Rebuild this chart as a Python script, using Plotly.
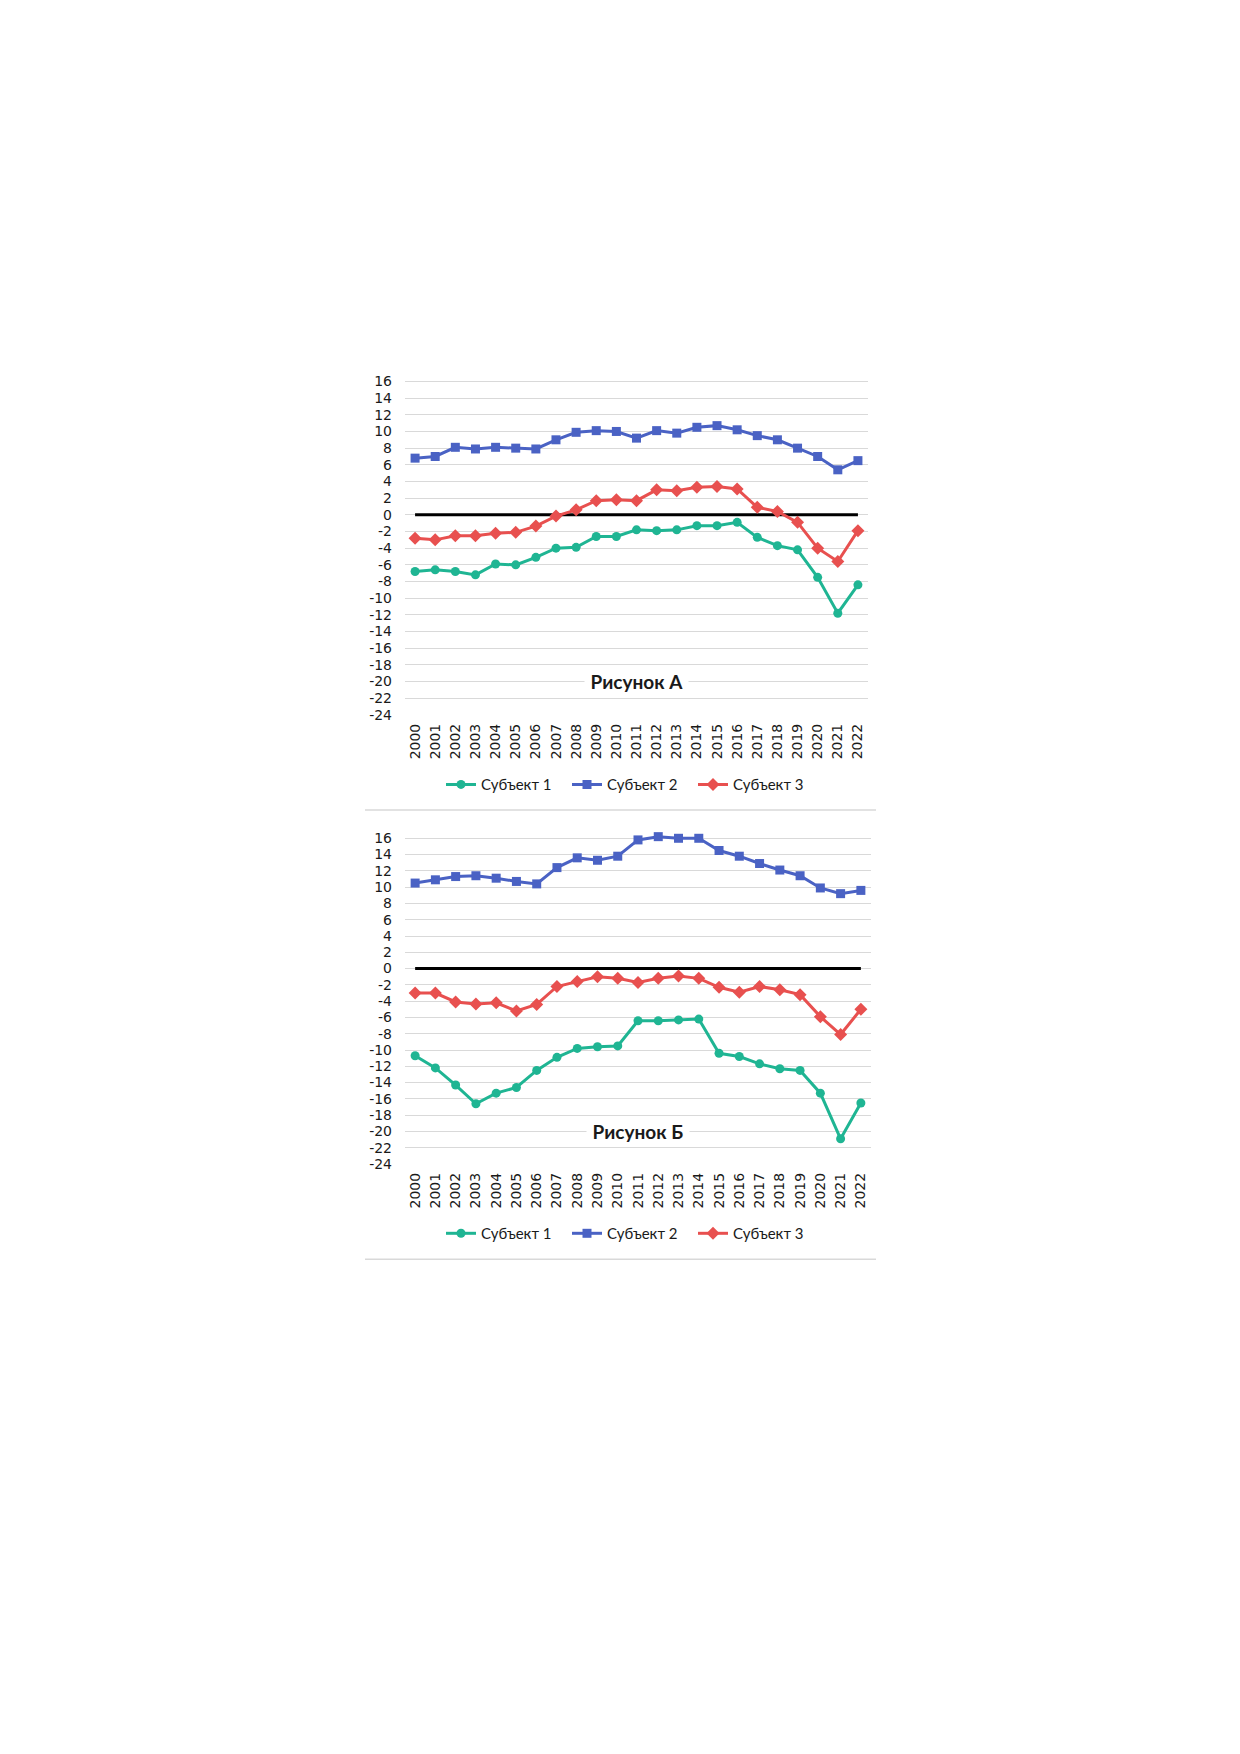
import plotly.graph_objects as go

years = [str(y) for y in range(2000, 2023)]
series_names = ["Субъект 1", "Субъект 2", "Субъект 3"]

# Рисунок А
a_s1 = [-6.8, -6.6, -6.8, -7.2, -5.9, -6.0, -5.1, -4.0, -3.9, -2.6, -2.6, -1.8, -1.9,
        -1.8, -1.3, -1.3, -0.9, -2.7, -3.7, -4.2, -7.5, -11.8, -8.4]
a_s2 = [6.8, 7.0, 8.1, 7.9, 8.1, 8.0, 7.9, 9.0, 9.9, 10.1, 10.0, 9.2, 10.1,
        9.8, 10.5, 10.7, 10.2, 9.5, 9.0, 8.0, 7.0, 5.4, 6.5]
a_s3 = [-2.8, -3.0, -2.5, -2.5, -2.2, -2.1, -1.35, -0.15, 0.6, 1.7, 1.8, 1.7, 3.0,
        2.9, 3.3, 3.4, 3.1, 0.9, 0.4, -0.9, -4.0, -5.6, -1.9]

# Рисунок Б
b_s1 = [-10.7, -12.2, -14.3, -16.6, -15.3, -14.6, -12.5, -10.9, -9.8, -9.6, -9.5, -6.4, -6.4,
        -6.3, -6.2, -10.4, -10.8, -11.7, -12.3, -12.5, -15.3, -20.9, -16.5]
b_s2 = [10.5, 10.9, 11.3, 11.4, 11.1, 10.7, 10.4, 12.4, 13.6, 13.3, 13.8, 15.8, 16.2,
        16.0, 16.0, 14.5, 13.8, 12.9, 12.1, 11.4, 9.9, 9.2, 9.6]
b_s3 = [-3.0, -3.0, -4.1, -4.35, -4.2, -5.2, -4.4, -2.2, -1.6, -1.0, -1.2, -1.7, -1.2,
        -0.9, -1.2, -2.3, -2.9, -2.2, -2.6, -3.2, -5.9, -8.1, -5.0]
zero_line = [0] * len(years)

titles = ["Рисунок А", "Рисунок Б"]
y_ticks = list(range(-24, 17, 2))
y_ticktext = [str(v) for v in y_ticks]  # hyphen-minus as in the original

colors = ["#1fb593", "#4a62c4", "#e8504f"]
symbols = ["circle", "square", "diamond"]
msizes = [9, 9, 10]

OFF = 8  # browser body margin
W, H = 1240 - OFF, 1754 - OFF
YTOP = 16.5  # headroom above the last gridline

def px_x(v):
    return (v - OFF) / W

def px_y(v):
    return 1 - (v - OFF) / H

fig = go.Figure()

charts = [
    dict(data=[a_s1, a_s2, a_s3], xd=(405, 868), y16=380, y24=715.8, legend_y=786, border=811.5, sfx="", leg="legend"),
    dict(data=[b_s1, b_s2, b_s3], xd=(405, 871), y16=840, y24=1168, legend_y=1238, border=1264, sfx="2", leg="legend2"),
]

tick_font = dict(family="DejaVu Sans, Verdana, sans-serif", size=14, color="#1a1a1a")

layout_extra = {}
for i, ch in enumerate(charts):
    xa = "x" + ch["sfx"]
    ya = "y" + ch["sfx"]
    ppu = (ch["y24"] - ch["y16"]) / 40.0
    ytop_px = ch["y16"] - (YTOP - 16) * ppu
    fig.add_trace(go.Scatter(
        x=years, y=zero_line, mode="lines", line=dict(color="#000000", width=3),
        showlegend=False, hoverinfo="skip", xaxis=xa, yaxis=ya))
    for k in range(3):
        fig.add_trace(go.Scatter(
            x=years, y=ch["data"][k], mode="lines+markers", name=series_names[k],
            line=dict(color=colors[k], width=3),
            marker=dict(symbol=symbols[k], size=msizes[k], color=colors[k]),
            cliponaxis=False, xaxis=xa, yaxis=ya, legend=ch["leg"]))
    xkey = "xaxis" + ch["sfx"]
    ykey = "yaxis" + ch["sfx"]
    layout_extra[xkey] = dict(
        domain=[px_x(ch["xd"][0]), px_x(ch["xd"][1])], anchor=ya, type="category",
        range=[-0.5, 22.5], showgrid=False, showline=False, zeroline=False, ticks="",
        tickangle=-90, tickfont=tick_font, ticklabelstandoff=5)
    layout_extra[ykey] = dict(
        domain=[px_y(ch["y24"]), px_y(ytop_px)], anchor=xa, range=[-24, YTOP],
        tickvals=y_ticks, ticktext=y_ticktext, showgrid=True, gridcolor="#d9d9d9", gridwidth=1,
        zeroline=False, showline=False, ticks="", tickfont=tick_font, ticklabelstandoff=12)
    layout_extra[ch["leg"]] = dict(
        orientation="h", x=px_x(630), xanchor="center", y=px_y(ch["legend_y"]), yanchor="middle",
        entrywidth=81, entrywidthmode="pixels",
        font=dict(family="Lato", size=15, color="#1a1a1a"), bgcolor="rgba(0,0,0,0)")
    fig.add_annotation(
        x=11, y=-20, xref=xa, yref=ya, text="<b>\u00a0" + titles[i] + "\u00a0</b>", showarrow=False,
        font=dict(family="Lato", size=19, color="#1a1a1a"), bgcolor="#ffffff", borderpad=1)
    fig.add_shape(type="line", xref="paper", yref="paper",
                  x0=px_x(365), x1=px_x(876), y0=px_y(ch["border"]), y1=px_y(ch["border"]),
                  line=dict(color="#d9d9d9", width=1.5))

fig.update_layout(
    width=W, height=H, margin=dict(l=0, r=0, t=0, b=0),
    paper_bgcolor="#ffffff", plot_bgcolor="#ffffff", **layout_extra)

fig.write_html("out.html")
